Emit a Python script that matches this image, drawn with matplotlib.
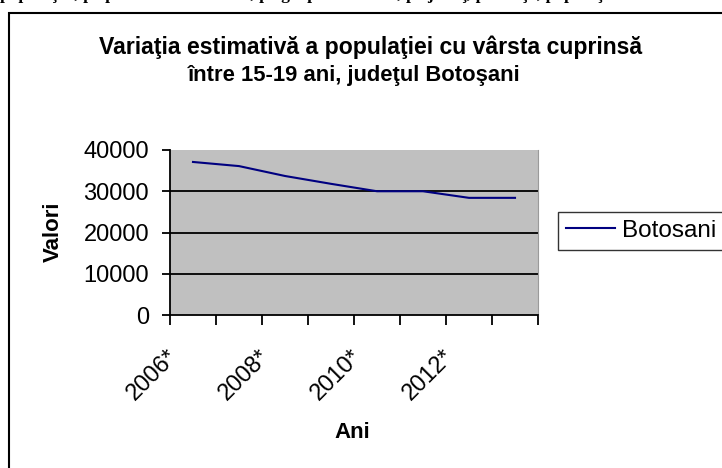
import matplotlib.pyplot as plt
from matplotlib.patches import Rectangle
from matplotlib.transforms import ScaledTranslation

plt.rcParams['font.family'] = ['Liberation Sans', 'DejaVu Sans']

# data
years = ['2006*', '2007*', '2008*', '2009*', '2010*', '2011*', '2012*', '2013*']
botosani = [37100, 36100, 33700, 31800, 30000, 30000, 28400, 28400]
y_ticks = [0, 10000, 20000, 30000, 40000]

title_1 = "Variaţia estimativă a populaţiei cu vârsta cuprinsă"
title_2 = "între 15-19 ani, judeţul Botoşani"
caption = ("populaţiei, pe perioada 2006-2013, pe grupe de vârstă,"
           " pe judeţ, proiecţii, populaţie")

W, H = 722, 468
fig = plt.figure(figsize=(W / 100, H / 100), dpi=100)

# cut-off caption line at the very top (only the lower part is visible)
fig.text(0.0, 1 + 1 / H, caption, ha='left', va='baseline',
         family='Liberation Serif', fontweight='bold', fontsize=12.5)

# chart area frame, running off the right and bottom edge
fig.patches.append(Rectangle((9 / W, -0.2), 1.2, 1.2 - 13 / H,
                             transform=fig.transFigure, fill=False,
                             edgecolor='black', linewidth=1.5))

ax = fig.add_axes([170 / W, 1 - 315 / H, (538 - 170) / W, (315 - 150) / H])
ax.set_facecolor('#C0C0C0')

x = list(range(len(years)))
ax.plot(x, botosani, color='#000080', linewidth=1.5, label='Botosani')

ax.set_xlim(-0.5, len(years) - 0.5)
ax.set_ylim(0, 40000)

for v in y_ticks[1:-1]:
    ax.axhline(v, color='black', linewidth=1.3, zorder=1)

ax.set_yticks(y_ticks)
ax.set_yticklabels([str(v) for v in y_ticks])
ax.tick_params(axis='y', direction='out', length=6, width=1.3, pad=9,
               labelsize=17)

# category boundaries carry the tick marks, every other category a label
ax.set_xticks([i - 0.5 for i in range(len(years) + 1)])
ax.set_xticklabels([])
ax.set_xticks(x[::2], minor=True)
ax.set_xticklabels(years[::2], minor=True, rotation=45, ha='right')
ax.tick_params(axis='x', which='major', direction='out', length=7, width=1.3)
ax.tick_params(axis='x', which='minor', length=0, pad=22, labelsize=17)
for lab in ax.get_xticklabels(minor=True):
    lab.set_transform(lab.get_transform() +
                      ScaledTranslation(-0.11, 0, fig.dpi_scale_trans))

ax.spines['left'].set_linewidth(1.3)
ax.spines['bottom'].set_linewidth(1.3)
ax.spines['top'].set_visible(False)
ax.spines['right'].set_color('#9A9A9A')

fig.text(371 / W, 1 - 47 / H, title_1, ha='center', va='center',
         fontsize=16.6, fontweight='bold')
fig.text(354 / W, 1 - 75 / H, title_2, ha='center', va='center',
         fontsize=15.8, fontweight='bold')
fig.text(53 / W, 1 - 232 / H, 'Valori', ha='center', va='center',
         rotation=90, fontsize=16, fontweight='bold')
fig.text(352 / W, 1 - 433 / H, 'Ani', ha='center', va='center',
         fontsize=16, fontweight='bold')

leg = fig.legend(loc='center left', bbox_to_anchor=(558 / W, 1 - 231 / H),
                 fontsize=17.5, frameon=True, fancybox=False, shadow=False,
                 borderpad=0.33, handlelength=2.0, handletextpad=0.3,
                 borderaxespad=0)
leg.get_frame().set_edgecolor('black')
leg.get_frame().set_linewidth(1.0)

fig.savefig('out.png', dpi=100)
